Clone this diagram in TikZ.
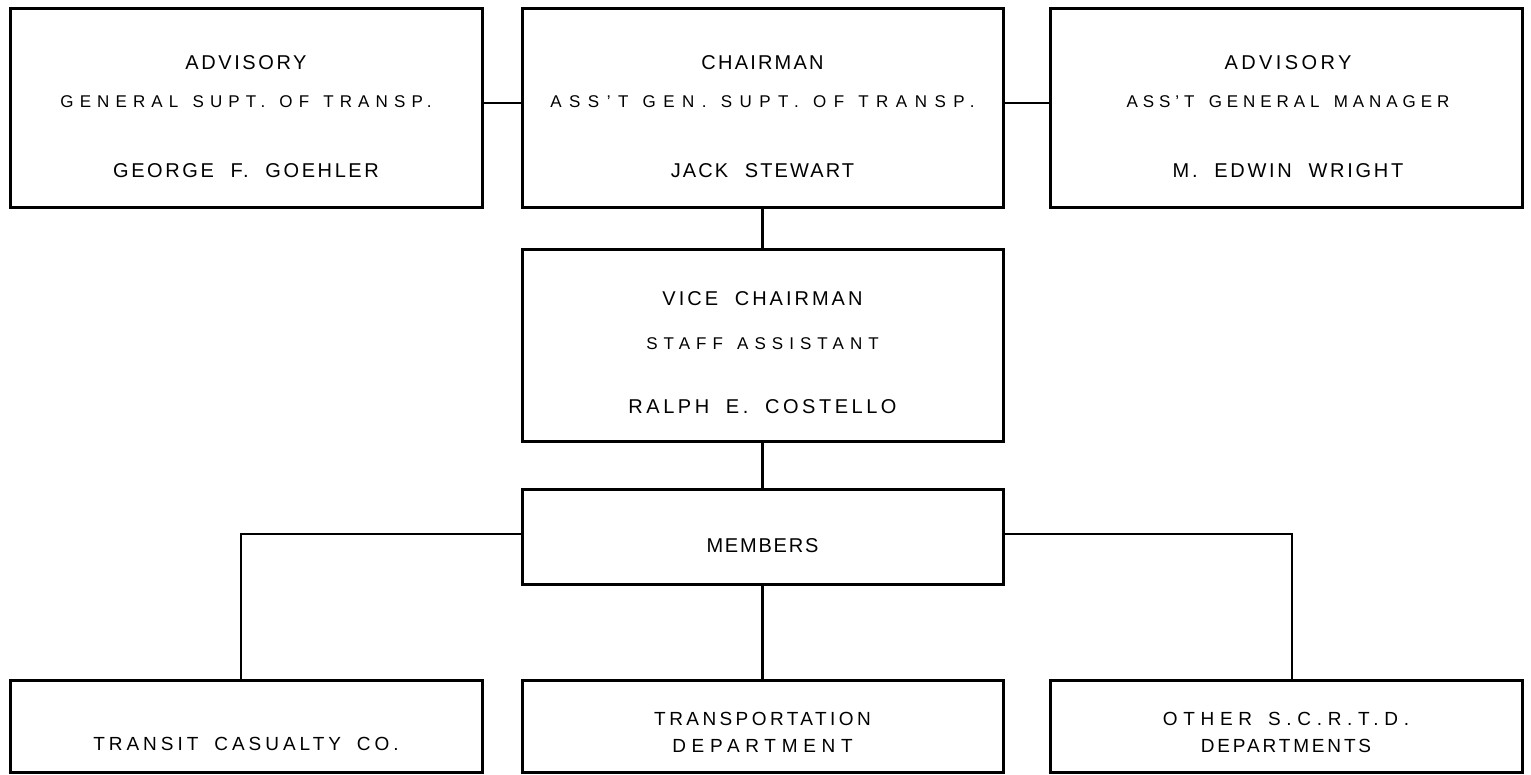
\documentclass[tikz,border=0pt]{standalone}
\usepackage{fontspec}
\setmainfont{Liberation Sans}
\newcommand{\lsp}[2]{{\addfontfeature{LetterSpace=#1}\spaceskip=0.834em\relax #2}}
\begin{document}
\begin{tikzpicture}[x=1pt,y=-1pt,
  box/.style={draw, line width=3pt, inner sep=0pt},
  conn/.style={line width=2.2pt},
  big/.style={font=\fontsize{20}{22}\selectfont, anchor=base, inner sep=0pt},
  sub/.style={font=\fontsize{17}{19}\selectfont, anchor=base, inner sep=0pt},
  bot/.style={font=\fontsize{19}{21}\selectfont, anchor=base, inner sep=0pt}]
\useasboundingbox (0,0) rectangle (1531,774);
% boxes
\node[box, minimum width=472pt, minimum height=199pt] (adv1) at (246,107.5) {};
\node[box, minimum width=481pt, minimum height=199pt] (chair) at (762.5,107.5) {};
\node[box, minimum width=472pt, minimum height=199pt] (adv2) at (1286,107.5) {};
\node[box, minimum width=481pt, minimum height=192pt] (vice) at (762.5,345) {};
\node[box, minimum width=481pt, minimum height=95pt] (members) at (762.5,536.5) {};
\node[box, minimum width=472pt, minimum height=92pt] (tcc) at (246,726) {};
\node[box, minimum width=481pt, minimum height=92pt] (trans) at (762.5,726) {};
\node[box, minimum width=472pt, minimum height=92pt] (other) at (1286,726) {};
% texts
\node[big] (adv1a) at (246,69) {\lsp{13}{ADVISORY}};
\node[sub] (adv1b) at (246,107.5) {\lsp{36}{GENERAL SUPT. OF TRANSP.}};
\node[big] (adv1c) at (246,177) {\lsp{13}{GEORGE F. GOEHLER}};
\node[big] (chaira) at (762.5,69) {\lsp{11}{CHAIRMAN}};
\node[sub] (chairb) at (762.5,107.5) {\lsp{44}{ASS'T GEN. SUPT. OF TRANSP.}};
\node[big] (chairc) at (762.5,177) {\lsp{10.5}{JACK STEWART}};
\node[big] (adv2a) at (1288,69) {\lsp{17}{ADVISORY}};
\node[sub] (adv2b) at (1288,107.5) {\lsp{29}{ASS'T GENERAL MANAGER}};
\node[big] (adv2c) at (1288,177) {\lsp{13.6}{M. EDWIN WRIGHT}};
\node[big] (vicea) at (762.5,305) {\lsp{15}{VICE CHAIRMAN}};
\node[sub] (viceb) at (762.5,349) {\lsp{35.5}{STAFF ASSISTANT}};
\node[big] (vicec) at (762.5,413) {\lsp{17.7}{RALPH E. COSTELLO}};
\node[big] (membersa) at (762.5,552) {\lsp{9}{MEMBERS}};
\node[bot] (tcca) at (246,750) {\lsp{21}{TRANSIT CASUALTY CO.}};
\node[bot] (transa) at (762.5,725) {\lsp{18}{TRANSPORTATION}};
\node[bot] (transb) at (762.5,752) {\lsp{30}{DEPARTMENT}};
\node[bot] (othera) at (1286,725) {\lsp{30}{OTHER S.C.R.T.D.}};
\node[bot] (otherb) at (1286,752) {\lsp{15}{DEPARTMENTS}};
% connectors
\draw[conn] ([yshift=4.5pt]adv1.east) -- ([yshift=4.5pt]chair.west);
\draw[conn] ([yshift=4.5pt]chair.east) -- ([yshift=4.5pt]adv2.west);
\draw[conn] (chair.south) -- (vice.north);
\draw[conn] (vice.south) -- (members.north);
\draw[conn] (members.south) -- (trans.north);
\draw[conn] ([yshift=2.5pt]members.west) -| ([xshift=-5pt]tcc.north);
\draw[conn] ([yshift=2.5pt]members.east) -| ([xshift=6pt]other.north);
\end{tikzpicture}
\end{document}
